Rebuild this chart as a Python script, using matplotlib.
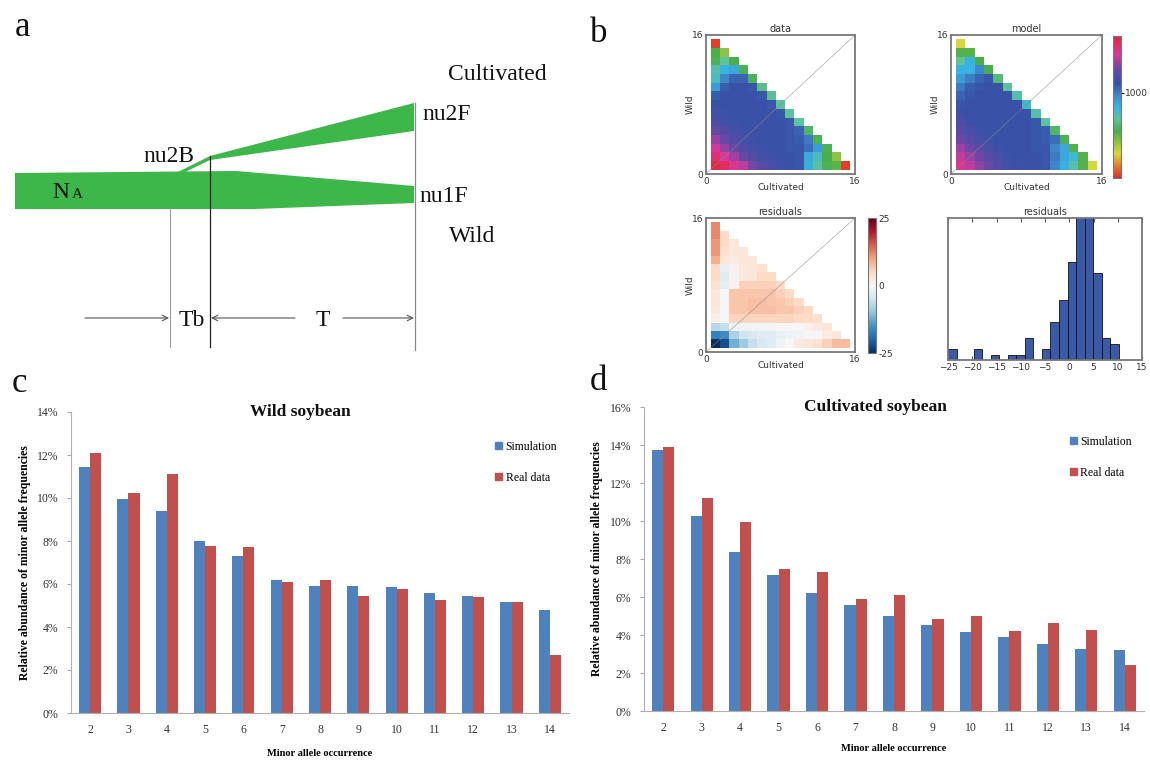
import numpy as np
import matplotlib.pyplot as plt
from matplotlib.colors import LinearSegmentedColormap, Normalize
from matplotlib.patches import Polygon, Patch

W, H = 1150, 760
SERIF = 'Liberation Serif'

# ---- panel c / d : relative abundance (%) ----
occurrence = [2, 3, 4, 5, 6, 7, 8, 9, 10, 11, 12, 13, 14]
wild_sim = [11.45, 9.95, 9.4, 8.0, 7.28, 6.17, 5.93, 5.92, 5.86, 5.57, 5.44, 5.15, 4.8]
wild_real = [12.1, 10.25, 11.1, 7.75, 7.7, 6.1, 6.17, 5.45, 5.75, 5.27, 5.4, 5.15, 2.7]
cult_sim = [13.75, 10.25, 8.35, 7.15, 6.22, 5.57, 5.02, 4.55, 4.15, 3.87, 3.55, 3.28, 3.2]
cult_real = [13.88, 11.2, 9.95, 7.47, 7.32, 5.9, 6.1, 4.84, 5.02, 4.22, 4.62, 4.27, 2.4]

# ---- panel b : log10 counts of the folded 2D spectrum, rows Wild=15 .. 1 ----
data_log = [
    [0.1],
    [1.65, 1.25],
    [1.7, 2.1, 1.65],
    [2.2, 2.5, 2.6, 1.7],
    [2.3, 2.9, 3.2, 3.2, 1.75],
    [2.7, 3.25, 3.35, 3.35, 3.3, 2.0],
    [3.25, 3.35, 3.35, 3.35, 3.35, 3.3, 2.05],
    [3.35, 3.35, 3.35, 3.35, 3.35, 3.35, 3.3, 2.1],
    [3.45, 3.4, 3.35, 3.35, 3.35, 3.35, 3.35, 3.3, 2.1],
    [3.55, 3.45, 3.4, 3.35, 3.35, 3.35, 3.35, 3.35, 3.3, 2.1],
    [3.8, 3.6, 3.45, 3.4, 3.35, 3.35, 3.35, 3.35, 3.3, 3.2, 1.8],
    [4.05, 3.8, 3.6, 3.45, 3.4, 3.35, 3.35, 3.35, 3.3, 3.25, 3.0, 1.7],
    [4.3, 4.05, 3.8, 3.6, 3.45, 3.4, 3.35, 3.35, 3.3, 3.3, 3.1, 2.7, 1.7],
    [4.6, 4.35, 4.1, 3.8, 3.6, 3.45, 3.4, 3.35, 3.35, 3.3, 2.6, 2.3, 1.65, 1.25],
    [4.9, 4.7, 4.4, 4.2, 3.9, 3.65, 3.5, 3.4, 3.35, 3.3, 2.55, 2.15, 1.7, 1.55, 0.1],
]
model_log = [
    [0.85],
    [1.6, 1.6],
    [2.1, 2.5, 1.65],
    [2.5, 2.5, 2.9, 1.65],
    [2.7, 2.95, 3.2, 3.3, 1.9],
    [3.0, 3.25, 3.3, 3.35, 3.35, 2.1],
    [3.2, 3.3, 3.35, 3.35, 3.35, 3.35, 2.2],
    [3.3, 3.35, 3.35, 3.35, 3.35, 3.35, 3.35, 2.35],
    [3.4, 3.35, 3.35, 3.35, 3.35, 3.35, 3.35, 3.35, 2.2],
    [3.5, 3.4, 3.35, 3.35, 3.35, 3.35, 3.35, 3.35, 3.3, 2.1],
    [3.65, 3.5, 3.4, 3.35, 3.35, 3.35, 3.35, 3.35, 3.3, 3.25, 1.8],
    [3.85, 3.65, 3.5, 3.4, 3.35, 3.35, 3.35, 3.35, 3.3, 3.25, 3.1, 1.7],
    [4.05, 3.85, 3.65, 3.5, 3.4, 3.35, 3.35, 3.35, 3.3, 3.3, 2.9, 2.6, 1.6],
    [4.25, 4.05, 3.85, 3.65, 3.5, 3.4, 3.35, 3.35, 3.35, 3.3, 3.0, 2.6, 2.4, 1.6],
    [4.4, 4.2, 4.0, 3.8, 3.6, 3.45, 3.4, 3.35, 3.35, 3.3, 2.9, 2.5, 2.2, 1.6, 0.85],
]
resid_vals = [
    [12],
    [12, 5],
    [11, 5, 3],
    [11, 4, 3, 3],
    [9, 3, 2, 3, 3],
    [5, -2, 1, 2.5, 3, 4],
    [5, -3, 1, 2.5, 3, 5, 5],
    [4, -2.5, 1, 6, 6, 6, 6, 5],
    [3, 0, 7, 7, 7, 7, 7, 6, 5],
    [3, 0, 7, 7, 7.5, 7.5, 7, 7, 6, 5],
    [2.5, 0, 7, 7, 7.5, 7.5, 7.5, 7, 7, 6, 5],
    [1.5, 0, 5.5, 5.5, 5.5, 5.5, 5.5, 5.5, 5.5, 5, 5, 4],
    [-7, -6, -1, -1, -1, -1, -1, 0, 0, 0, 1, 2, 3],
    [-17, -16, -8, -5, -4, -3, -3, -2, -1.5, -1, 0, 0, 2, 3],
    [-25, -22, -12, -9, -6, -4, -3, -1.5, 0, 2, 3, 4, 6, 8, 8],
]
hist_counts = [2, 0, 0, 2, 0, 1, 0, 1, 1, 4, 0, 2, 7, 11, 18, 30, 30, 16, 4, 3]
hist_range = (-25, 10.2)


def tri_grid(rows):
    g = np.full((17, 17), np.nan)
    for k, row in enumerate(rows):
        j = 15 - k
        for i, v in enumerate(row):
            g[j, i + 1] = v
    return np.ma.masked_invalid(g)


def px_axes(fig, l, t, r, b):
    return fig.add_axes([l / W, 1 - b / H, (r - l) / W, (b - t) / H])


fig = plt.figure(figsize=(W / 100, H / 100), dpi=100)

# ---------- panel a (schematic, pixel coordinates) ----------
ax_a = fig.add_axes([0, 0, 1, 1])
ax_a.set_xlim(0, W)
ax_a.set_ylim(H, 0)
ax_a.axis('off')
green = '#3db74a'
wild_shape = [(15, 173), (236, 171), (414, 186), (414, 203), (255, 209), (15, 209)]
cult_shape = [(176, 173), (210, 156), (414, 103), (414, 131), (210, 160), (183, 173)]
ax_a.add_patch(Polygon(wild_shape, closed=True, fc=green, ec='none'))
ax_a.add_patch(Polygon(cult_shape, closed=True, fc=green, ec='none'))
ax_a.plot([170, 170], [209, 347], color='#9a9a9a', lw=0.8)
ax_a.plot([210, 210], [156, 347], color='#222222', lw=0.9)
ax_a.plot([415, 415], [103, 350], color='#8a8a8a', lw=0.9)
arr = dict(arrowstyle='->', color='#555555', lw=0.8, shrinkA=0, shrinkB=0)
ax_a.annotate('', xy=(169, 318), xytext=(85, 318), arrowprops=arr)
ax_a.annotate('', xy=(211, 318), xytext=(295, 318), arrowprops=arr)
ax_a.annotate('', xy=(414, 318), xytext=(343, 318), arrowprops=arr)
ta = dict(family=SERIF, fontsize=17, color='#111111', va='center')
ax_a.text(497, 75, 'Cultivated', ha='center', **ta)
ax_a.text(422, 115, 'nu2F', ha='left', **ta)
ax_a.text(169, 157, 'nu2B', ha='center', **ta)
ax_a.text(419, 196, 'nu1F', ha='left', **ta)
ax_a.text(472, 236, 'Wild', ha='center', **ta)
ax_a.text(192, 320, 'Tb', ha='center', **ta)
ax_a.text(323, 320, 'T', ha='center', **ta)
ax_a.text(52, 193, 'N', ha='left', **ta)
ax_a.text(72, 195, 'A', ha='left', family=SERIF, fontsize=11, color='#111111', va='center')
for lab, x, y in [('a', 22, 28), ('b', 599, 34), ('c', 19, 383), ('d', 598, 381)]:
    ax_a.text(x, y, lab, family=SERIF, fontsize=25, ha='center', va='center', color='#111111')

# ---------- panel b ----------
sfs_cmap = LinearSegmentedColormap.from_list('sfs', [
    (0.0, '#e22a2a'), (0.17, '#d9d63c'), (0.33, '#4aae4c'), (0.42, '#5ec29a'),
    (0.5, '#38b4e2'), (0.58, '#3f86c8'), (0.667, '#3752a8'), (0.77, '#6b47a5'),
    (0.87, '#d8399a'), (1.0, '#e3263a')])
edges = np.arange(-0.5, 17.0, 1.0)
bfont = dict(fontsize=6.5, color='#333333')


def heat_axes(ax, grid, cmap, norm, title):
    m = ax.pcolormesh(edges, edges, grid, cmap=cmap, norm=norm, edgecolors='none')
    ax.plot([0, 16], [0, 16], color='#888888', lw=0.5, alpha=0.7)
    ax.set_xlim(0, 16)
    ax.set_ylim(0, 16)
    ax.set_xticks([0, 16])
    ax.set_yticks([0, 16])
    ax.set_xticklabels(['0', '16'], **bfont)
    ax.set_yticklabels(['0', '16'], **bfont)
    ax.tick_params(length=0, pad=2)
    ax.set_xlabel('Cultivated', labelpad=-2, **bfont)
    ax.set_ylabel('Wild', labelpad=-2, **bfont)
    ax.set_title(title, fontsize=7, color='#333333', pad=2)
    for s in ax.spines.values():
        s.set_color('#777777')
        s.set_linewidth(1.3)
    return m


lognorm = Normalize(vmin=0, vmax=5)
ax_d = px_axes(fig, 706, 35, 855, 174)
heat_axes(ax_d, tri_grid(data_log), sfs_cmap, lognorm, 'data')
ax_m = px_axes(fig, 951, 35, 1102, 174)
mm = heat_axes(ax_m, tri_grid(model_log), sfs_cmap, lognorm, 'model')
cax1 = px_axes(fig, 1113, 36, 1121, 178)
cb1 = fig.colorbar(mm, cax=cax1, ticks=[3])
cb1.ax.set_yticklabels(['1000'], **bfont)
cb1.ax.tick_params(length=2, pad=1)
cb1.outline.set_edgecolor('#777777')

ax_r = px_axes(fig, 706, 218, 855, 352)
mr = heat_axes(ax_r, tri_grid(resid_vals), plt.get_cmap('RdBu_r'), Normalize(-25, 25), 'residuals')
cax2 = px_axes(fig, 868, 218, 876, 353)
cb2 = fig.colorbar(mr, cax=cax2, ticks=[-25, 0, 25])
cb2.ax.set_yticklabels(['-25', '0', '25'], **bfont)
cb2.ax.tick_params(length=0, pad=2)
cb2.outline.set_edgecolor('#777777')

ax_h = px_axes(fig, 948, 218, 1142, 360)
bin_edges = np.linspace(hist_range[0], hist_range[1], len(hist_counts) + 1)
ax_h.bar(bin_edges[:-1], hist_counts, width=np.diff(bin_edges), align='edge',
         color='#3a5aa8', edgecolor='#111111', linewidth=0.6)
ax_h.set_xlim(-25, 15)
ax_h.set_ylim(0, 26)
ax_h.set_yticks([])
ax_h.set_xticks(range(-25, 16, 5))
ax_h.set_xticklabels(['\u221225', '\u221220', '\u221215', '\u221210', '\u22125', '0', '5', '10', '15'], **bfont)
ax_h.tick_params(axis='x', direction='in', length=3, top=True, pad=2, color='#555555')
ax_h.set_title('residuals', fontsize=7, color='#333333', pad=2)
for s in ax_h.spines.values():
    s.set_color('#777777')
    s.set_linewidth(1.3)

# ---------- panels c and d ----------
blue, red = '#4f81bd', '#c0504d'
bw = 0.29
x = np.array(occurrence)


def bar_panel(ax, sim, real, ymax, title, tx):
    ax.bar(x - bw / 2, sim, bw, color=blue)
    ax.bar(x + bw / 2, real, bw, color=red)
    ax.set_xlim(1.5, 14.5)
    ax.set_ylim(0, ymax)
    ax.set_yticks(range(0, ymax + 1, 2))
    ax.set_yticklabels(['%d%%' % v for v in range(0, ymax + 1, 2)], family=SERIF, fontsize=8.5, color='#333333')
    ax.set_xticks(x)
    ax.set_xticklabels([str(v) for v in occurrence], family=SERIF, fontsize=8.5, color='#333333')
    ax.tick_params(axis='x', length=0, pad=8)
    ax.tick_params(axis='y', length=3, color='#aaaaaa', pad=6)
    for s in ['top', 'right']:
        ax.spines[s].set_visible(False)
    for s in ['left', 'bottom']:
        ax.spines[s].set_color('#b0b0b0')
    ax.text(tx, 1.0, title, transform=ax.transAxes, ha='center', va='center',
            family=SERIF, fontsize=12.5, fontweight='bold', color='#111111')
    ax.set_xlabel('Minor allele occurrence', family=SERIF, fontsize=7.5, fontweight='bold')
    ax.set_ylabel('Relative abundance of minor allele frequencies', family=SERIF, fontsize=8.5, fontweight='bold')
    handles = [Patch(color=blue, label='Simulation'), Patch(color=red, label='Real data')]
    ax.legend(handles=handles, loc='upper left', bbox_to_anchor=(0.83, 0.94), frameon=False,
              prop={'family': SERIF, 'size': 8.5}, handlelength=0.6, handleheight=0.6,
              handletextpad=0.3, labelspacing=1.6)


ax_c = px_axes(fig, 71, 412, 569, 713)
bar_panel(ax_c, wild_sim, wild_real, 14, 'Wild soybean', 0.46)
ax_c.yaxis.set_label_coords(-0.08, 0.5)
ax_c.xaxis.set_label_coords(0.5, -0.12)

ax_dd = px_axes(fig, 644, 407, 1144, 711)
bar_panel(ax_dd, cult_sim, cult_real, 16, 'Cultivated soybean', 0.462)
ax_dd.yaxis.set_label_coords(-0.082, 0.5)
ax_dd.xaxis.set_label_coords(0.5, -0.108)

fig.savefig('out.png', dpi=100)
